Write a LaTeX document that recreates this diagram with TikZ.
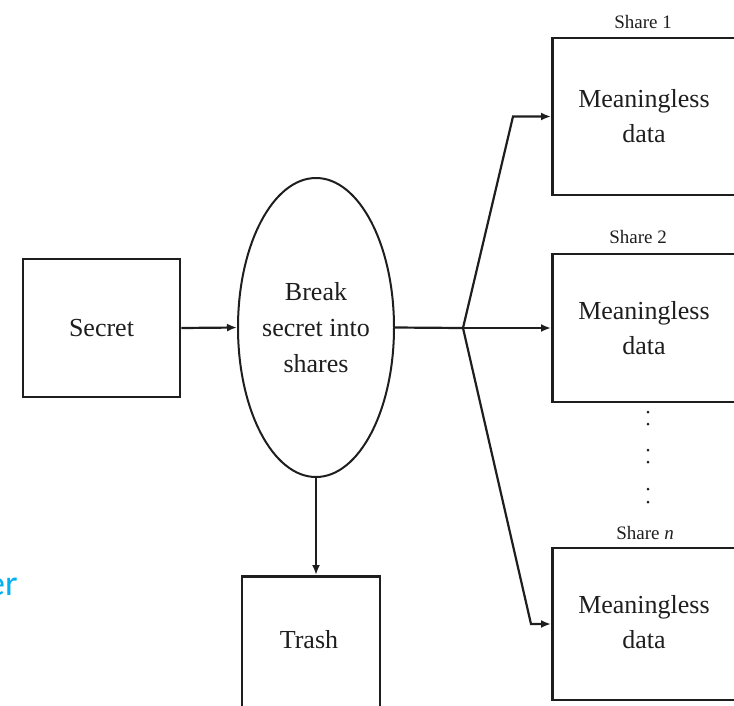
\documentclass[tikz,border=0pt]{standalone}
\usepackage{fontspec}
\setmainfont{Liberation Serif}
\newfontfamily\calib{Carlito}
\usetikzlibrary{arrows.meta,shapes.geometric}
\definecolor{accblue}{RGB}{0,176,240}
\definecolor{ink}{RGB}{30,30,30}
\tikzset{
  box/.style={draw=ink,line width=2.8pt,rectangle,inner sep=0pt},
  oval/.style={draw=ink,line width=2pt,ellipse,inner sep=0pt,minimum width=156pt,minimum height=299pt,align=center,font=\fontsize{26}{36}\selectfont,text=ink},
  lbl/.style={font=\fontsize{26}{35}\selectfont,align=center,text=ink,inner sep=0pt},
  small/.style={font=\fontsize{19}{22}\selectfont,text=ink,inner sep=0pt},
  conn/.style={draw=ink,line width=2.2pt},
  arr/.style={conn,-{Latex[length=10pt,width=8pt]}},
  dotf/.style={fill=ink,circle,inner sep=0pt,minimum size=3pt}
}
\begin{document}
\begin{tikzpicture}[x=1pt,y=-1pt]
\useasboundingbox (0,0) rectangle (734,705);
\clip (0,0) rectangle (734,705);
% nodes
\node[box,minimum width=157pt,minimum height=138pt] (secret) at (101.5,328) {};
\node[lbl] (secrettxt) at (101.5,328) {Secret};
\node[oval] (brk) at (316,327.5) {Break\\secret into\\shares};
\node[box,minimum width=138pt,minimum height=150pt,anchor=north] (trash) at (311,575) {};
\node[lbl] (trashtxt) at (309,640) {Trash};
\node[box,minimum width=190pt,minimum height=157pt,anchor=west] (s1) at (551,116.5) {};
\node[lbl] (s1txt) at (644,116.5) {Meaningless\\data};
\node[box,minimum width=190pt,minimum height=148pt,anchor=west] (s2) at (551,328) {};
\node[lbl] (s2txt) at (644,328) {Meaningless\\data};
\node[box,minimum width=190pt,minimum height=152pt,anchor=west] (sn) at (551,624) {};
\node[lbl] (sntxt) at (644,622) {Meaningless\\data};
\node[small] (l1) at (643,22) {Share 1};
\node[small] (l2) at (638,237) {Share 2};
\node[small] (ln) at (645,533) {Share \textit{n}};
% dots
\foreach \yy [count=\i] in {412,424,450,462,489,502}{
  \node[dotf] (d\i) at (648,\yy) {};
}
% cut-off blue text
\node[font=\calib\fontsize{36}{40}\selectfont,text=accblue,anchor=base west,inner sep=0pt] (blue) at (-13,595) {er};
% connectors
\coordinate (br) at (463,328);
\coordinate (b1) at (513,116.5);
\coordinate (bn) at (531,624);
\draw[arr] (secret.east) -- (brk.west);
\draw[conn] (brk.east) -- (br);
\draw[arr] (br) -- (s2.west);
\draw[arr] (br) -- (b1) -- (s1.west);
\draw[arr] (br) -- (bn) -- (sn.west);
\draw[arr] (brk.south) -- (brk.south |- trash.north);
\end{tikzpicture}
\end{document}
